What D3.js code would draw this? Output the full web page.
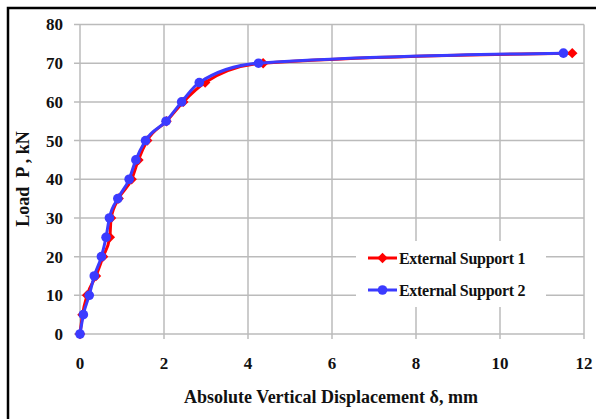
<!DOCTYPE html>
<html>
<head>
  <meta charset="utf-8">
  <title>Load vs Displacement</title>
  <style>
    body { margin: 0; background: #fff; }
  </style>
</head>
<body>
  <script src="https://d3js.org/d3.v7.min.js"></script>
  <script type="text/javascript">

var loads = [0, 5, 10, 15, 20, 25, 30, 35, 40, 45, 50, 55, 60, 65, 70, 72.6];
var disp1 = [0, 0.06, 0.17, 0.38, 0.55, 0.71, 0.74, 0.92, 1.23, 1.39, 1.60, 2.06, 2.46, 2.98, 4.36, 11.72];
var disp2 = [0, 0.08, 0.22, 0.34, 0.51, 0.62, 0.70, 0.90, 1.17, 1.33, 1.56, 2.05, 2.42, 2.84, 4.25, 11.51];
var seriesNames = ["External Support 1", "External Support 2"];
var xTicks = [0, 2, 4, 6, 8, 10, 12];
var yTicks = [0, 10, 20, 30, 40, 50, 60, 70, 80];

var W = 596, H = 419;
var margin = {top: 24.5, right: 12, bottom: 85, left: 80},
    width  = W - margin.left - margin.right,
    height = H - margin.top - margin.bottom;

var FONT = "'Liberation Serif', 'DejaVu Serif', 'Times New Roman', serif";

var svg = d3.select("body")
    .append("svg")
    .attr("width", W)
    .attr("height", H)
    .attr("font-family", FONT)
    .attr("font-weight", "bold");

// outer frame (only left and top visible)
svg.append("path")
    .attr("d", "M8," + H + "V8H" + W)
    .attr("fill", "none")
    .attr("stroke", "#000")
    .attr("stroke-width", 2.5);

var chart = svg.append("g")
    .attr("transform", "translate(" + margin.left + "," + margin.top + ")");

var x = d3.scaleLinear().domain([0, 12]).range([0, width]);
var y = d3.scaleLinear().domain([0, 80]).range([height, 0]);

// grid
chart.append("g")
    .selectAll("line")
    .data(yTicks)
    .enter().append("line")
    .attr("x1", -6).attr("x2", width)
    .attr("y1", function(d){ return y(d); })
    .attr("y2", function(d){ return y(d); })
    .attr("stroke", "#bbb").attr("stroke-width", 1.5);

chart.append("g")
    .selectAll("line")
    .data(xTicks)
    .enter().append("line")
    .attr("y1", 0).attr("y2", height + 5)
    .attr("x1", function(d){ return x(d); })
    .attr("x2", function(d){ return x(d); })
    .attr("stroke", "#bbb").attr("stroke-width", 1.5);

// tick labels
chart.append("g")
    .selectAll("text")
    .data(yTicks)
    .enter().append("text")
    .attr("x", -17)
    .attr("y", function(d){ return y(d); })
    .attr("dy", "0.35em")
    .attr("text-anchor", "end")
    .attr("font-size", 17)
    .attr("fill", "#111")
    .text(function(d){ return d; });

chart.append("g")
    .selectAll("text")
    .data(xTicks)
    .enter().append("text")
    .attr("x", function(d){ return x(d); })
    .attr("y", height + 29)
    .attr("dy", "0.35em")
    .attr("text-anchor", "middle")
    .attr("font-size", 17)
    .attr("fill", "#111")
    .text(function(d){ return d; });

// axis titles
svg.append("text")
    .attr("x", 331)
    .attr("y", 403)
    .attr("text-anchor", "middle")
    .attr("font-size", 18)
    .attr("fill", "#111")
    .text("Absolute Vertical Displacement \u03b4, mm");

svg.append("text")
    .attr("transform", "translate(29,179) rotate(-90)")
    .attr("text-anchor", "middle")
    .attr("font-size", 18)
    .attr("fill", "#111")
    .style("white-space", "pre")
    .text("Load  P , kN");

// lines
var line = d3.line()
    .x(function(d){ return x(d[0]); })
    .y(function(d){ return y(d[1]); })
    .curve(d3.curveMonotoneX);

var data1 = disp1.map(function(d, i){ return [d, loads[i]]; });
var data2 = disp2.map(function(d, i){ return [d, loads[i]]; });

var red = "#ff0000", blue = "#3b3bff";

chart.append("path")
    .datum(data1)
    .attr("d", line)
    .attr("fill", "none")
    .attr("stroke", red)
    .attr("stroke-width", 3);

var diamond = d3.symbol().type(d3.symbolDiamond2).size(70);

chart.selectAll(".m1")
    .data(data1)
    .enter().append("path")
    .attr("class", "m1")
    .attr("d", diamond)
    .attr("transform", function(d){ return "translate(" + x(d[0]) + "," + y(d[1]) + ")"; })
    .attr("fill", red);

chart.append("path")
    .datum(data2)
    .attr("d", line)
    .attr("fill", "none")
    .attr("stroke", blue)
    .attr("stroke-width", 3);

chart.selectAll(".m2")
    .data(data2)
    .enter().append("circle")
    .attr("class", "m2")
    .attr("cx", function(d){ return x(d[0]); })
    .attr("cy", function(d){ return y(d[1]); })
    .attr("r", 4.8)
    .attr("fill", blue);

// legend
var legend = svg.append("g");
legend.append("rect")
    .attr("x", 356).attr("y", 241)
    .attr("width", 190).attr("height", 66)
    .attr("fill", "#fff");

var colors = [red, blue];
seriesNames.forEach(function(name, i){
    var ly = 258 + i * 32;
    legend.append("line")
        .attr("x1", 368).attr("x2", 397)
        .attr("y1", ly).attr("y2", ly)
        .attr("stroke", colors[i]).attr("stroke-width", 3);
    if (i === 0) {
        legend.append("path")
            .attr("d", diamond)
            .attr("transform", "translate(382.5," + ly + ")")
            .attr("fill", red);
    } else {
        legend.append("circle")
            .attr("cx", 382.5).attr("cy", ly).attr("r", 4.8)
            .attr("fill", blue);
    }
    legend.append("text")
        .attr("x", 399)
        .attr("y", ly)
        .attr("dy", "0.35em")
        .attr("font-size", 16)
        .attr("fill", "#111")
        .attr("letter-spacing", -0.3)
        .text(name);
});

  </script>
</body>
</html>
